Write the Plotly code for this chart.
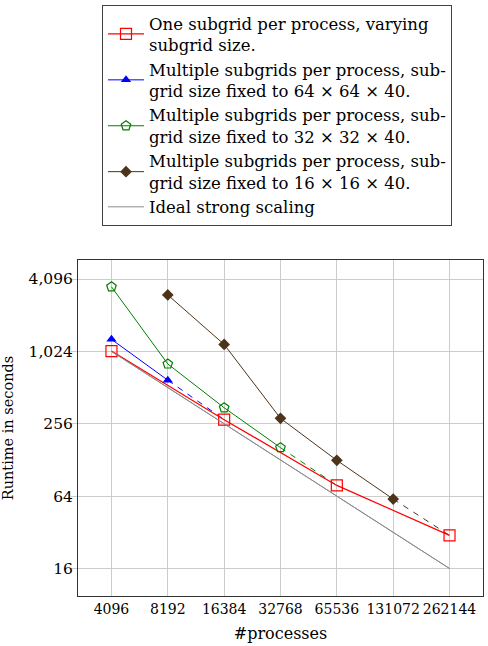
import plotly.graph_objects as go

procs = [4096, 8192, 16384, 32768, 65536, 131072, 262144]
tick_labels_x = ["4096", "8192", "16384", "32768", "65536", "131072", "262144"]
y_ticks = [16, 64, 256, 1024, 4096]
y_tick_labels = ["16", "64", "256", "1,024", "4,096"]

one_x = [4096, 16384, 65536, 262144]
one_y = [1030, 277, 78.6, 30.2]

s64_x = [4096, 8192]
s64_y = [1290, 590]

s32_x = [4096, 8192, 16384, 32768]
s32_y = [3530, 805, 348, 162]

s16_x = [8192, 16384, 32768, 65536, 131072]
s16_y = [3020, 1170, 284, 127, 60.5]

ideal_x = [4096, 262144]
ideal_y = [1024, 16]

dash64_x = [8192, 16384]
dash64_y = [590, 277]
dash32_x = [32768, 65536]
dash32_y = [162, 78.6]
dash16_x = [131072, 262144]
dash16_y = [60.5, 30.2]

RED = "#ff0000"
BLUE = "#0000ff"
GREEN = "#008000"
BROWN = "#4d3319"
GRAY = "#8c8c8c"
FONT = "DejaVu Serif"

fig = go.Figure()

fig.add_trace(go.Scatter(x=ideal_x, y=ideal_y, mode="lines", line=dict(color=GRAY, width=1),
                         showlegend=False, hoverinfo="skip"))
fig.add_trace(go.Scatter(x=dash64_x, y=dash64_y, mode="lines", line=dict(color=BLUE, width=1, dash="6px,6px"),
                         showlegend=False))
fig.add_trace(go.Scatter(x=dash32_x, y=dash32_y, mode="lines", line=dict(color=GREEN, width=1, dash="6px,6px"),
                         showlegend=False))
fig.add_trace(go.Scatter(x=dash16_x, y=dash16_y, mode="lines", line=dict(color=BROWN, width=1, dash="6px,6px"),
                         showlegend=False))

fig.add_trace(go.Scatter(x=one_x, y=one_y, mode="lines+markers",
                         name="One subgrid per process, varying<br>subgrid size.",
                         line=dict(color=RED, width=1.2),
                         marker=dict(symbol="square-open", size=11, color=RED, line=dict(width=1.2))))
fig.add_trace(go.Scatter(x=s64_x, y=s64_y, mode="lines+markers",
                         name="Multiple subgrids per process, sub-<br>grid size fixed to 64 × 64 × 40.",
                         line=dict(color=BLUE, width=1),
                         marker=dict(symbol="triangle-up", size=9, color=BLUE)))
fig.add_trace(go.Scatter(x=s32_x, y=s32_y, mode="lines+markers",
                         name="Multiple subgrids per process, sub-<br>grid size fixed to 32 × 32 × 40.",
                         line=dict(color=GREEN, width=1),
                         marker=dict(symbol="pentagon-open", size=10, color=GREEN, line=dict(width=1.2))))
fig.add_trace(go.Scatter(x=s16_x, y=s16_y, mode="lines+markers",
                         name="Multiple subgrids per process, sub-<br>grid size fixed to 16 × 16 × 40.",
                         line=dict(color=BROWN, width=1),
                         marker=dict(symbol="diamond", size=9, color=BROWN)))
fig.add_trace(go.Scatter(x=ideal_x, y=ideal_y, mode="lines",
                         name="Ideal strong scaling",
                         line=dict(color=GRAY, width=1)))

fig.update_layout(
    width=488, height=646,
    margin=dict(l=78, r=5, t=260, b=50, autoexpand=False),
    paper_bgcolor="white", plot_bgcolor="white",
    font=dict(family=FONT, size=16, color="black"),
    showlegend=True,
    legend=dict(
        x=(102 - 78) / (488 - 78 - 5), y=(646 - 50 - 5) / (646 - 260 - 50),
        xref="paper", yref="paper",
        xanchor="left", yanchor="top",
        bgcolor="white", bordercolor="#404040", borderwidth=1,
        font=dict(family=FONT, size=16.5),
        tracegroupgap=0, itemwidth=36,
        entrywidth=316, entrywidthmode="pixels",
    ),
    xaxis=dict(
        type="log",
        range=[3.4336, 5.5974],
        tickvals=procs, ticktext=tick_labels_x, tickangle=0,
        showgrid=True, gridcolor="#cccccc", gridwidth=1,
        showline=True, linecolor="#333333", linewidth=1, mirror=True,
        ticks="", zeroline=False, automargin=False,
        title=dict(text="#processes", standoff=12, font=dict(family=FONT, size=16)),
        tickfont=dict(family=FONT, size=14),
    ),
    yaxis=dict(
        type="log",
        range=[0.9753, 3.7707],
        tickvals=y_ticks, ticktext=y_tick_labels,
        showgrid=True, gridcolor="#cccccc", gridwidth=1,
        showline=True, linecolor="#333333", linewidth=1, mirror=True,
        ticks="outside", ticklen=6, tickcolor="#cccccc",
        zeroline=False, automargin=False, ticklabelstandoff=-5,
        title=dict(text="Runtime in seconds", standoff=12, font=dict(family=FONT, size=14.5)),
        tickfont=dict(family=FONT, size=15.5),
    ),
)

fig.write_html("out.html")
